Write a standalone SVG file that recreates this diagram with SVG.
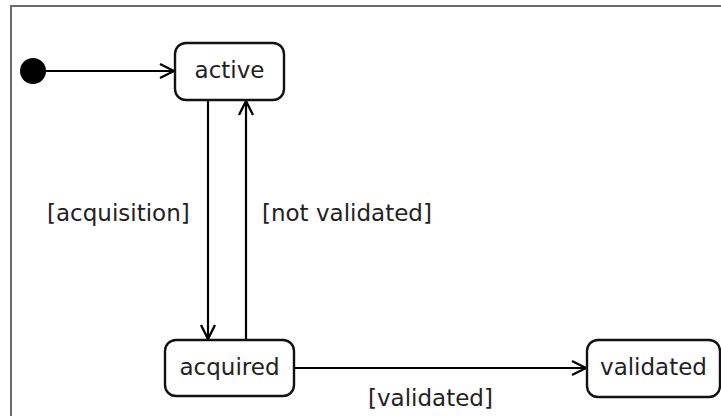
<svg xmlns="http://www.w3.org/2000/svg" width="721" height="416" viewBox="0 0 721 416">
<defs>
<style>
.frame{fill:none;stroke:#6a6a6a;stroke-width:2}
.state{fill:#fff;stroke:#111;stroke-width:2.4}
.edge{fill:none;stroke:#000;stroke-width:2.2}
.lbl{font-family:"DejaVu Sans",sans-serif;font-size:23px;fill:#222}
.name{text-anchor:middle}
</style>
<marker id="arr" viewBox="0 0 18 18" refX="16" refY="9" markerWidth="18" markerHeight="18" markerUnits="userSpaceOnUse" orient="auto">
<path d="M2,2 L16,9 L2,16" fill="none" stroke="#000" stroke-width="2.3"/>
</marker>
</defs>
<rect width="721" height="416" fill="#fff"/>
<path class="frame" d="M11,416 V6 H721"/>
<g id="connectors">
<line class="edge" x1="46" y1="71" x2="174" y2="71" marker-end="url(#arr)"/>
<line class="edge" x1="208" y1="100" x2="208" y2="339" marker-end="url(#arr)"/>
<line class="edge" x1="246" y1="340" x2="246" y2="101" marker-end="url(#arr)"/>
<line class="edge" x1="294" y1="368" x2="586" y2="368" marker-end="url(#arr)"/>
<text class="lbl" x="47" y="221">[acquisition]</text>
<text class="lbl" x="262" y="221">[not validated]</text>
<text class="lbl" x="368" y="406">[validated]</text>
</g>
<g id="initial">
<circle cx="33" cy="71" r="13" fill="#000"/>
</g>
<g id="active">
<rect class="state" x="175" y="43" width="109" height="57" rx="11"/>
<text class="lbl name" x="229.5" y="78">active</text>
</g>
<g id="acquired">
<rect class="state" x="165" y="340" width="129" height="56" rx="11"/>
<text class="lbl name" x="229.5" y="375">acquired</text>
</g>
<g id="validated">
<rect class="state" x="587" y="340" width="133" height="57" rx="11"/>
<text class="lbl name" x="653.5" y="375">validated</text>
</g>
</svg>
